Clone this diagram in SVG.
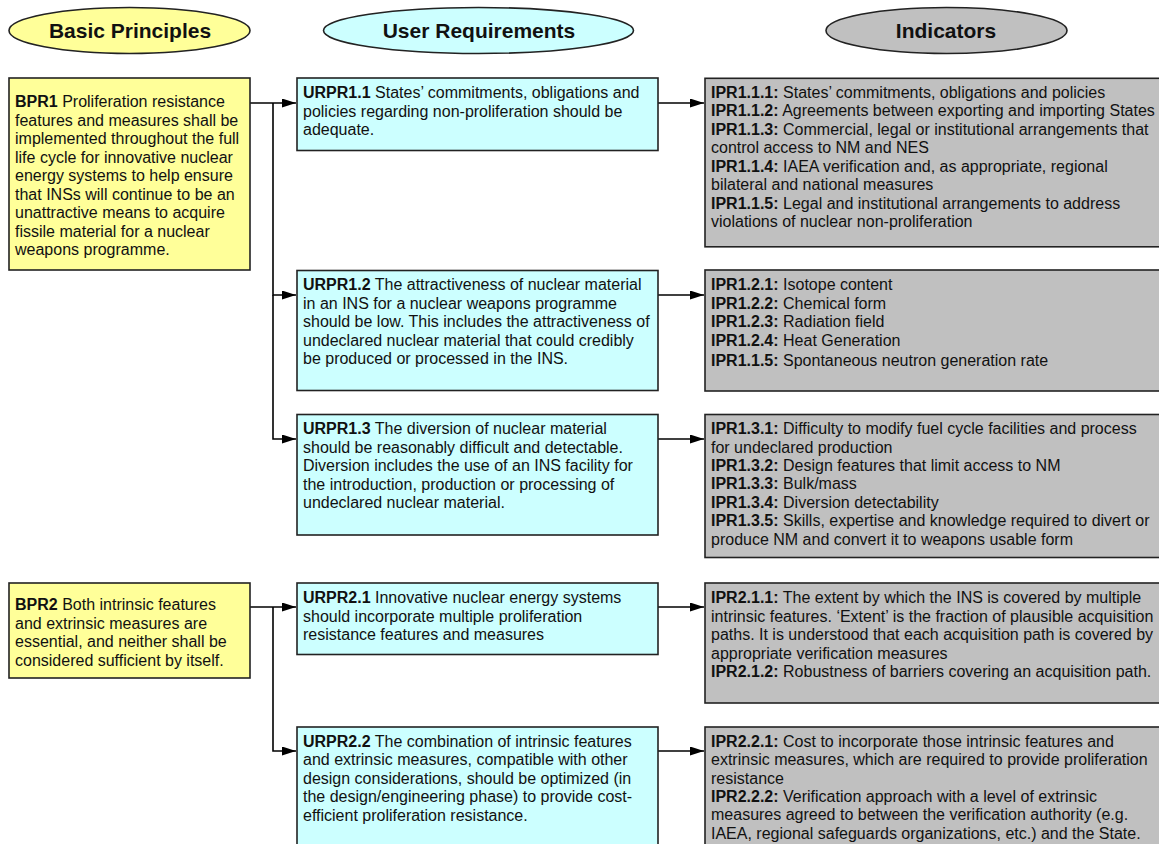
<svg xmlns="http://www.w3.org/2000/svg" width="1159" height="844" viewBox="0 0 1159 844">
  <style>
    text { font-family: "Liberation Sans", Arial, sans-serif; font-size: 16px; fill: #111; }
    .head { font-size: 21px; font-weight: bold; text-anchor: middle; }
    .b { font-weight: bold; }
    .bp { fill: #FFFF99; stroke: #222; stroke-width: 1.6; }
    .ur { fill: #CCFFFF; stroke: #222; stroke-width: 1.6; }
    .ip { fill: #C0C0C0; stroke: #222; stroke-width: 1.6; }
    .link { fill: none; stroke: #000; stroke-width: 1.6; }
  </style>
  <defs>
    <marker id="arrow" viewBox="0 0 14 9" refX="14" refY="4.5" markerWidth="14" markerHeight="9" markerUnits="userSpaceOnUse" orient="auto">
      <path d="M0,0 L14,4.5 L0,9 z" fill="#000"/>
    </marker>
  </defs>

  <rect width="1159" height="844" fill="#fff"/>

  <!-- column headers -->
  <g id="hdr-bp">
    <ellipse cx="129.5" cy="30.5" rx="120.5" ry="23" class="bp"/>
    <text x="130" y="38" class="head">Basic Principles</text>
  </g>
  <g id="hdr-ur">
    <ellipse cx="478.5" cy="30.5" rx="155" ry="23" class="ur"/>
    <text x="479" y="38" class="head">User Requirements</text>
  </g>
  <g id="hdr-ip">
    <ellipse cx="946.5" cy="30.5" rx="120.5" ry="23" class="ip"/>
    <text x="946" y="38" class="head">Indicators</text>
  </g>

  <!-- connectors -->
  <g id="connectors">
    <path class="link" d="M250,103 H296" marker-end="url(#arrow)"/>
    <path class="link" d="M273,103 V295 H296" marker-end="url(#arrow)"/>
    <path class="link" d="M273,295 V439 H296" marker-end="url(#arrow)"/>
    <path class="link" d="M658,103 H704" marker-end="url(#arrow)"/>
    <path class="link" d="M658,295 H704" marker-end="url(#arrow)"/>
    <path class="link" d="M658,439 H704" marker-end="url(#arrow)"/>
    <path class="link" d="M250,607 H296" marker-end="url(#arrow)"/>
    <path class="link" d="M273,607 V751 H296" marker-end="url(#arrow)"/>
    <path class="link" d="M658,607 H704" marker-end="url(#arrow)"/>
    <path class="link" d="M658,751 H704" marker-end="url(#arrow)"/>
  </g>

  <!-- basic principles -->
  <g id="BPR1">
    <rect x="9" y="78" width="241" height="192" class="bp"/>
    <text x="15" y="107"><tspan class="b">BPR1</tspan> Proliferation resistance</text>
    <text x="15" y="125.5">features and measures shall be</text>
    <text x="15" y="144">implemented throughout the full</text>
    <text x="15" y="162.5">life cycle for innovative nuclear</text>
    <text x="15" y="181">energy systems to help ensure</text>
    <text x="15" y="199.5">that INSs will continue to be an</text>
    <text x="15" y="218">unattractive means to acquire</text>
    <text x="15" y="236.5">fissile material for a nuclear</text>
    <text x="15" y="255">weapons programme.</text>
  </g>
  <g id="BPR2">
    <rect x="9" y="583" width="241" height="95" class="bp"/>
    <text x="15" y="610"><tspan class="b">BPR2</tspan> Both intrinsic features</text>
    <text x="15" y="628.5">and extrinsic measures are</text>
    <text x="15" y="647">essential, and neither shall be</text>
    <text x="15" y="665.5">considered sufficient by itself.</text>
  </g>

  <!-- user requirements -->
  <g id="URPR1.1">
    <rect x="297" y="78" width="361" height="72.5" class="ur"/>
    <text x="303" y="98"><tspan class="b">URPR1.1</tspan> States’ commitments, obligations and</text>
    <text x="303" y="116.5">policies regarding non-proliferation should be</text>
    <text x="303" y="135">adequate.</text>
  </g>
  <g id="URPR1.2">
    <rect x="297" y="270.5" width="361" height="120" class="ur"/>
    <text x="303" y="290"><tspan class="b">URPR1.2</tspan> The attractiveness of nuclear material</text>
    <text x="303" y="308.5">in an INS for a nuclear weapons programme</text>
    <text x="303" y="327">should be low. This includes the attractiveness of</text>
    <text x="303" y="345.5">undeclared nuclear material that could credibly</text>
    <text x="303" y="364">be produced or processed in the INS.</text>
  </g>
  <g id="URPR1.3">
    <rect x="297" y="414.5" width="361" height="120.5" class="ur"/>
    <text x="303" y="434"><tspan class="b">URPR1.3</tspan> The diversion of nuclear material</text>
    <text x="303" y="452.5">should be reasonably difficult and detectable.</text>
    <text x="303" y="471">Diversion includes the use of an INS facility for</text>
    <text x="303" y="489.5">the introduction, production or processing of</text>
    <text x="303" y="508">undeclared nuclear material.</text>
  </g>
  <g id="URPR2.1">
    <rect x="297" y="583" width="361" height="71.5" class="ur"/>
    <text x="303" y="603"><tspan class="b">URPR2.1</tspan> Innovative nuclear energy systems</text>
    <text x="303" y="621.5">should incorporate multiple proliferation</text>
    <text x="303" y="640">resistance features and measures</text>
  </g>
  <g id="URPR2.2">
    <rect x="297" y="727" width="361" height="130" class="ur"/>
    <text x="303" y="746.5"><tspan class="b">URPR2.2</tspan> The combination of intrinsic features</text>
    <text x="303" y="765">and extrinsic measures, compatible with other</text>
    <text x="303" y="783.5">design considerations, should be optimized (in</text>
    <text x="303" y="802">the design/engineering phase) to provide cost-</text>
    <text x="303" y="820.5">efficient proliferation resistance.</text>
  </g>

  <!-- indicators -->
  <g id="IPR1.1">
    <rect x="705" y="78.3" width="465" height="168.5" class="ip"/>
    <text x="711" y="97.5"><tspan class="b">IPR1.1.1:</tspan> States’ commitments, obligations and policies</text>
    <text x="711" y="116"><tspan class="b">IPR1.1.2:</tspan> Agreements between exporting and importing States</text>
    <text x="711" y="134.5"><tspan class="b">IPR1.1.3:</tspan> Commercial, legal or institutional arrangements that</text>
    <text x="711" y="153">control access to NM and NES</text>
    <text x="711" y="171.5"><tspan class="b">IPR1.1.4:</tspan> IAEA verification and, as appropriate, regional</text>
    <text x="711" y="190">bilateral and national measures</text>
    <text x="711" y="208.5"><tspan class="b">IPR1.1.5:</tspan> Legal and institutional arrangements to address</text>
    <text x="711" y="227">violations of nuclear non-proliferation</text>
  </g>
  <g id="IPR1.2">
    <rect x="705" y="270" width="465" height="121" class="ip"/>
    <text x="711" y="290"><tspan class="b">IPR1.2.1:</tspan> Isotope content</text>
    <text x="711" y="308.5"><tspan class="b">IPR1.2.2:</tspan> Chemical form</text>
    <text x="711" y="327"><tspan class="b">IPR1.2.3:</tspan> Radiation field</text>
    <text x="711" y="345.5"><tspan class="b">IPR1.2.4:</tspan> Heat Generation</text>
    <text x="711" y="365.5"><tspan class="b">IPR1.1.5:</tspan> Spontaneous neutron generation rate</text>
  </g>
  <g id="IPR1.3">
    <rect x="705" y="414.5" width="465" height="143" class="ip"/>
    <text x="711" y="434"><tspan class="b">IPR1.3.1:</tspan> Difficulty to modify fuel cycle facilities and process</text>
    <text x="711" y="452.5">for undeclared production</text>
    <text x="711" y="471"><tspan class="b">IPR1.3.2:</tspan> Design features that limit access to NM</text>
    <text x="711" y="489"><tspan class="b">IPR1.3.3:</tspan> Bulk/mass</text>
    <text x="711" y="507.5"><tspan class="b">IPR1.3.4:</tspan> Diversion detectability</text>
    <text x="711" y="526"><tspan class="b">IPR1.3.5:</tspan> Skills, expertise and knowledge required to divert or</text>
    <text x="711" y="544.5">produce NM and convert it to weapons usable form</text>
  </g>
  <g id="IPR2.1">
    <rect x="705" y="583" width="465" height="120" class="ip"/>
    <text x="711" y="603"><tspan class="b">IPR2.1.1:</tspan> The extent by which the INS is covered by multiple</text>
    <text x="711" y="621.5">intrinsic features. ‘Extent’ is the fraction of plausible acquisition</text>
    <text x="711" y="640">paths. It is understood that each acquisition path is covered by</text>
    <text x="711" y="658.5">appropriate verification measures</text>
    <text x="711" y="677"><tspan class="b">IPR2.1.2:</tspan> Robustness of barriers covering an acquisition path.</text>
  </g>
  <g id="IPR2.2">
    <rect x="705" y="727" width="465" height="130" class="ip"/>
    <text x="711" y="746.5"><tspan class="b">IPR2.2.1:</tspan> Cost to incorporate those intrinsic features and</text>
    <text x="711" y="765">extrinsic measures, which are required to provide proliferation</text>
    <text x="711" y="783.5">resistance</text>
    <text x="711" y="801.5"><tspan class="b">IPR2.2.2:</tspan> Verification approach with a level of extrinsic</text>
    <text x="711" y="820">measures agreed to between the verification authority (e.g.</text>
    <text x="711" y="838.5">IAEA, regional safeguards organizations, etc.) and the State.</text>
  </g>
</svg>
